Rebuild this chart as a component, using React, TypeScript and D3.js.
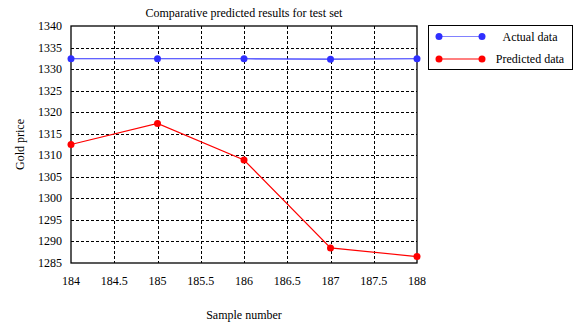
import React, { useRef, useEffect } from 'react';
import * as d3 from 'd3';

const samples = [184, 185, 186, 187, 188];
const actualData = [1332.4, 1332.4, 1332.4, 1332.3, 1332.4];
const predictedData = [1312.5, 1317.4, 1308.9, 1288.5, 1286.5];
const xTicks = [184, 184.5, 185, 185.5, 186, 186.5, 187, 187.5, 188];
const yTicks = [1285, 1290, 1295, 1300, 1305, 1310, 1315, 1320, 1325, 1330, 1335, 1340];
const seriesNames = ['Actual data', 'Predicted data'];
const seriesColors = ['#2f2fff', '#ff0000'];

const W = 574;
const H = 325;
const font = '"Liberation Serif", "Times New Roman", serif';

const App = () => {
  const ref = useRef<SVGSVGElement>(null);

  useEffect(() => {
    const svg = d3.select(ref.current);
    svg.selectAll('*').remove();

    const left = 71, right = 417, top = 26, bottom = 263;

    const x = d3.scaleLinear().domain([184, 188]).range([left, right]);
    const y = d3.scaleLinear().domain([1285, 1340]).range([bottom, top]);

    svg.append('rect').attr('width', W).attr('height', H).attr('fill', '#fff');

    // grid
    const grid = svg.append('g').attr('stroke', '#000').attr('stroke-width', 1).attr('stroke-dasharray', '3,2');
    xTicks.slice(1, -1).forEach((t) => {
      grid.append('line')
        .attr('x1', Math.round(x(t)) + 0.5).attr('x2', Math.round(x(t)) + 0.5)
        .attr('y1', top).attr('y2', bottom);
    });
    yTicks.slice(1, -1).forEach((t) => {
      grid.append('line')
        .attr('x1', left).attr('x2', right)
        .attr('y1', Math.round(y(t)) + 0.5).attr('y2', Math.round(y(t)) + 0.5);
    });

    // frame
    svg.append('rect')
      .attr('x', left).attr('y', top)
      .attr('width', right - left).attr('height', bottom - top)
      .attr('fill', 'none').attr('stroke', '#000').attr('stroke-width', 1.3);

    // tick labels
    svg.append('g').selectAll('text').data(xTicks).join('text')
      .attr('x', (d) => x(d)).attr('y', bottom + 22)
      .attr('text-anchor', 'middle')
      .style('font-family', font).style('font-size', '12px')
      .text((d) => String(d));

    svg.append('g').selectAll('text').data(yTicks).join('text')
      .attr('x', left - 9).attr('y', (d) => y(d) + 4)
      .attr('text-anchor', 'end')
      .style('font-family', font).style('font-size', '12px')
      .text((d) => String(d));

    // titles
    svg.append('text')
      .attr('x', (left + right) / 2).attr('y', 17)
      .attr('text-anchor', 'middle')
      .style('font-family', font).style('font-size', '12px')
      .text('Comparative predicted results for test set');

    svg.append('text')
      .attr('x', (left + right) / 2).attr('y', 319)
      .attr('text-anchor', 'middle')
      .style('font-family', font).style('font-size', '12px')
      .text('Sample number');

    svg.append('text')
      .attr('transform', `translate(24, ${(top + bottom) / 2}) rotate(-90)`)
      .attr('text-anchor', 'middle')
      .style('font-family', font).style('font-size', '12px')
      .text('Gold price');

    // series
    const line = d3.line<number>()
      .x((_, i) => x(samples[i]))
      .y((d) => y(d));

    [actualData, predictedData].forEach((vals, si) => {
      svg.append('path')
        .datum(vals)
        .attr('d', line)
        .attr('fill', 'none')
        .attr('stroke', seriesColors[si])
        .attr('stroke-width', 1.2);
      svg.append('g').selectAll('circle').data(vals).join('circle')
        .attr('cx', (_, i) => x(samples[i]))
        .attr('cy', (d) => y(d))
        .attr('r', 3.5)
        .attr('fill', seriesColors[si]);
    });

    // legend
    const lg = svg.append('g');
    lg.append('rect')
      .attr('x', 428.5).attr('y', 25.5)
      .attr('width', 144).attr('height', 44)
      .attr('fill', '#fff').attr('stroke', '#000').attr('stroke-width', 1);
    seriesNames.forEach((name, i) => {
      const ly = 36.5 + i * 22.5;
      lg.append('line')
        .attr('x1', 439).attr('x2', 482).attr('y1', ly).attr('y2', ly)
        .attr('stroke', seriesColors[i]).attr('stroke-width', 1.2)
        .attr('opacity', i === 0 ? 0.6 : 1);
      [439, 482].forEach((cx) => {
        lg.append('circle').attr('cx', cx).attr('cy', ly).attr('r', 3.5).attr('fill', seriesColors[i]);
      });
      lg.append('text')
        .attr('x', 530).attr('y', ly + 4)
        .attr('text-anchor', 'middle')
        .style('font-family', font).style('font-size', '12px')
        .text(name);
    });
  }, []);

  return (
    <svg
      ref={ref}
      width={W}
      height={H}
      style={{ position: 'absolute', left: 0, top: 0, display: 'block' }}
    />
  );
};

export default App;
